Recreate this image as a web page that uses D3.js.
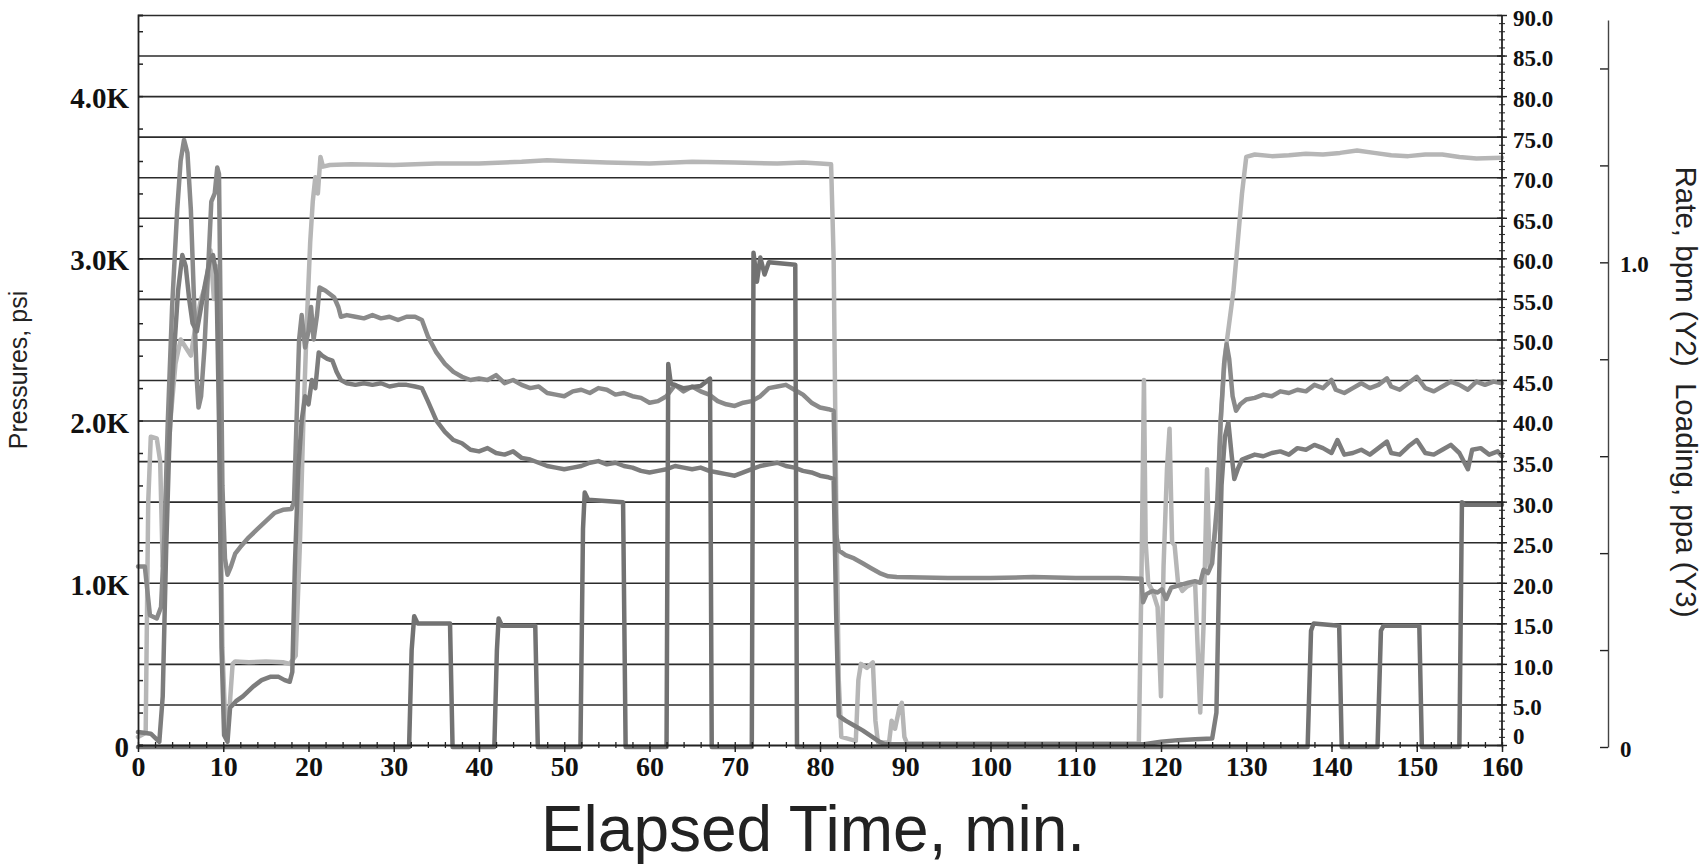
<!DOCTYPE html>
<html>
<head>
<meta charset="utf-8">
<script src="https://cdn.jsdelivr.net/npm/d3@7"></script>
<style>
  html, body { margin: 0; padding: 0; background: #fff; }
  svg { display: block; }
</style>
</head>
<body>
<div id="chart"></div>
<script>
// Series: [elapsed minutes, value]
// Pressures in psi (left axis)
const pressureUpper = [
  [0, 1100], [0.8, 1100], [1.1, 950], [1.4, 800], [2.2, 780], [2.7, 850], [3.1, 1300], [3.5, 2000],
  [4.0, 2700], [4.6, 3300], [5.0, 3600], [5.4, 3730], [5.8, 3650], [6.2, 3300], [6.6, 2700], [6.9, 2250],
  [7.1, 2080], [7.4, 2150], [7.8, 2450], [8.2, 2900], [8.6, 3350], [9.0, 3400], [9.3, 3560], [9.5, 3520],
  [9.7, 2600], [9.9, 1600], [10.2, 1150], [10.5, 1050], [10.9, 1100], [11.4, 1180], [12, 1220], [13, 1280],
  [14, 1330], [15, 1380], [16, 1430], [17, 1450], [18, 1455], [18.3, 1500], [18.6, 2000], [18.9, 2500],
  [19.2, 2650], [19.6, 2450], [20.0, 2550], [20.3, 2700], [20.6, 2500], [21.0, 2650], [21.3, 2820], [22, 2800],
  [22.5, 2780], [23, 2760], [23.5, 2700], [23.8, 2640], [24.5, 2650], [25.5, 2640], [26.5, 2630], [27.5, 2650],
  [28.5, 2630], [29.5, 2640], [30.5, 2620], [31.5, 2640], [32.5, 2640], [33.3, 2620], [34, 2520], [35, 2420],
  [36, 2350], [37, 2300], [38, 2270], [39, 2250], [40, 2260], [41, 2250], [42, 2280], [43, 2230], [44, 2250],
  [45, 2220], [46, 2200], [47, 2210], [48, 2170], [49, 2160], [50, 2150], [51, 2180], [52, 2190], [53, 2170],
  [54, 2200], [55, 2190], [56, 2160], [57, 2170], [58, 2150], [59, 2140], [60, 2110], [61, 2120], [62, 2150],
  [63, 2220], [64, 2180], [65, 2210], [66, 2180], [67, 2160], [68, 2120], [69, 2100], [70, 2090], [71, 2110],
  [72, 2120], [73, 2150], [74, 2200], [75, 2210], [76, 2220], [77, 2190], [78, 2160], [79, 2110], [80, 2080],
  [81, 2070], [81.6, 2060], [81.9, 1300], [82.2, 1200], [83, 1170], [84, 1150], [85, 1120], [86, 1090],
  [87, 1060], [88, 1040], [89, 1035], [95, 1030], [100, 1030], [105, 1035], [110, 1030], [115, 1030],
  [117.7, 1025], [117.9, 880], [118.3, 930], [119, 950], [119.6, 940], [120.1, 960], [120.6, 900], [121.2, 970],
  [121.8, 980], [122.5, 990], [123.2, 1000], [124.0, 1010], [124.6, 1000], [125, 1080], [125.5, 1060], [126, 1120],
  [126.6, 1500], [127.0, 2000], [127.4, 2350], [127.7, 2470], [128.0, 2380], [128.4, 2150], [128.8, 2060], [129.3, 2100],
  [130, 2130], [131, 2140], [132, 2160], [133, 2150], [134, 2180], [135, 2170], [136, 2190], [137, 2180],
  [138, 2220], [139, 2200], [140, 2250], [140.5, 2190], [141.5, 2170], [142.5, 2200], [143.5, 2230], [144.5, 2200],
  [145.5, 2220], [146.5, 2260], [147, 2210], [148, 2190], [149, 2230], [150, 2270], [151, 2200], [152, 2180],
  [153, 2210], [154, 2240], [155, 2220], [156, 2190], [157, 2240], [158, 2220], [159, 2240], [160, 2230]
];

const pressureLower = [
  [0, 80], [1.5, 70], [2.5, 20], [2.9, 300], [3.3, 1200], [3.7, 1900], [4.2, 2400], [4.7, 2800],
  [5.2, 3020], [5.6, 2950], [6.0, 2750], [6.4, 2600], [6.9, 2550], [7.4, 2700], [7.9, 2850], [8.4, 2980],
  [8.8, 3020], [9.2, 2900], [9.5, 2000], [9.8, 600], [10.1, 60], [10.5, 20], [10.8, 230], [11.5, 270],
  [12.3, 300], [13.5, 360], [14.5, 400], [15.5, 420], [16.5, 420], [17.2, 400], [17.8, 390], [18.1, 450],
  [18.4, 1100], [18.8, 1700], [19.2, 2000], [19.6, 2150], [20.0, 2100], [20.4, 2250], [20.8, 2200], [21.2, 2420],
  [21.6, 2400], [22.2, 2380], [22.8, 2370], [23.3, 2300], [23.8, 2250], [24.5, 2230], [25.5, 2220], [26.5, 2230],
  [27.5, 2220], [28.5, 2230], [29.5, 2210], [30.5, 2220], [31.5, 2220], [32.5, 2210], [33.3, 2200], [34, 2120],
  [35, 2000], [36, 1930], [37, 1880], [38, 1860], [39, 1820], [40, 1810], [41, 1830], [42, 1800], [43, 1790],
  [44, 1810], [45, 1770], [46, 1760], [47, 1740], [48, 1720], [49, 1710], [50, 1700], [51, 1710], [52, 1720],
  [53, 1740], [54, 1750], [55, 1730], [56, 1740], [57, 1720], [58, 1710], [59, 1690], [60, 1680], [61, 1690],
  [62, 1700], [63, 1720], [64, 1710], [65, 1700], [66, 1710], [67, 1690], [68, 1680], [69, 1670], [70, 1660],
  [71, 1680], [72, 1700], [73, 1720], [74, 1730], [75, 1740], [76, 1720], [77, 1710], [78, 1690], [79, 1680],
  [80, 1660], [81, 1650], [81.6, 1640], [81.9, 800], [82.2, 180], [83, 150], [84, 120], [85, 90], [86, 55],
  [87, 20], [87.6, 5], [100, 5], [118, 5], [120, 20], [122, 30], [124, 35], [126, 40], [126.5, 200],
  [126.8, 1000], [127.1, 1600], [127.5, 1900], [127.9, 1990], [128.3, 1780], [128.6, 1640], [129.0, 1700], [129.5, 1760],
  [130, 1770], [131, 1790], [132, 1780], [133, 1800], [134, 1810], [135, 1790], [136, 1830], [137, 1820],
  [138, 1850], [139, 1830], [140, 1800], [140.7, 1880], [141.5, 1790], [142.5, 1800], [143.5, 1820], [144.5, 1790],
  [145.5, 1830], [146.5, 1870], [147, 1800], [148, 1790], [149, 1840], [150, 1880], [151, 1800], [152, 1790],
  [153, 1820], [154, 1850], [155, 1800], [156, 1700], [156.5, 1820], [157.5, 1830], [158.5, 1790], [159.5, 1810],
  [160, 1780]
];

// Rate in bpm (Y2)
const rate = [
  [0, 1], [0.9, 1.5], [1.2, 30], [1.5, 38], [2.2, 37.8], [2.6, 35], [2.9, 22], [3.3, 30], [3.8, 40],
  [4.4, 47], [5.0, 50], [5.6, 49], [6.2, 48], [6.8, 52], [7.4, 55], [8.0, 57], [8.5, 61], [8.9, 55],
  [9.3, 59], [9.6, 40], [9.9, 12], [10.3, 1], [10.7, 4], [11.1, 10], [11.4, 10.3], [13, 10.2], [15, 10.3],
  [17, 10.2], [17.8, 10], [18.5, 11], [19.0, 25], [19.4, 40], [19.8, 52], [20.2, 62], [20.5, 67], [20.8, 70],
  [21.1, 68], [21.4, 72.5], [21.7, 71.3], [22.5, 71.5], [25, 71.6], [30, 71.5], [35, 71.7], [40, 71.7],
  [45, 71.9], [48, 72.1], [50, 72.0], [55, 71.8], [60, 71.7], [65, 71.9], [70, 71.8], [75, 71.7], [78, 71.8],
  [80, 71.7], [81.3, 71.6], [81.6, 60], [81.9, 30], [82.2, 8], [82.5, 1], [84.2, 0.5], [84.5, 8], [84.8, 10],
  [85.5, 9.5], [86.2, 10.2], [86.5, 3], [86.8, 0.3], [88.1, 0.3], [88.4, 3], [88.8, 2], [89.3, 4.5],
  [89.6, 5.2], [89.9, 1], [90.2, 0.2], [117.4, 0.2], [117.7, 20], [118.0, 45], [118.2, 25], [118.5, 20],
  [119, 19], [119.6, 17], [120, 6], [120.3, 22], [120.7, 34], [121.0, 39], [121.3, 25], [121.6, 24.6],
  [122, 20], [122.5, 19], [123, 19.5], [124, 20], [124.6, 4], [125, 15], [125.4, 34], [125.7, 22],
  [126.2, 25], [126.6, 28], [127, 40], [127.5, 48], [128, 52], [128.5, 56], [129, 62], [129.5, 68],
  [130, 72.5], [131, 72.8], [133, 72.6], [135, 72.7], [137, 72.9], [139, 72.8], [141, 73.0], [143, 73.3],
  [145, 73.0], [147, 72.7], [149, 72.6], [151, 72.8], [153, 72.8], [155, 72.5], [157, 72.3], [160, 72.4]
];

// Loading in ppa (Y3)
const loading = [
  [0, 0], [31.8, 0], [32.1, 0.2], [32.4, 0.27], [32.8, 0.255], [36.6, 0.255], [36.9, 0],
  [41.8, 0], [42.1, 0.2], [42.3, 0.265], [42.7, 0.25], [46.6, 0.25], [46.9, 0],
  [51.9, 0], [52.2, 0.45], [52.4, 0.525], [52.8, 0.51], [56.9, 0.505], [57.2, 0],
  [62.0, 0], [62.2, 0.79], [62.5, 0.75], [64, 0.74], [66, 0.745], [67.1, 0.76], [67.3, 0],
  [72.0, 0], [72.2, 1.02], [72.6, 0.96], [73.0, 1.01], [73.5, 0.975], [74, 1.0], [77.1, 0.995], [77.3, 0],
  [137.2, 0], [137.6, 0.24], [137.9, 0.255], [140.9, 0.25], [141.2, 0],
  [145.4, 0], [145.8, 0.24], [146.1, 0.25], [150.3, 0.25], [150.6, 0],
  [155.0, 0], [155.3, 0.505], [155.6, 0.5], [160, 0.5]
];

// Tick values
const xTicks = d3.range(0, 161, 10);
const xMinorTicks = d3.range(0, 161, 2);
const pressureLabels = [0, 1000, 2000, 3000, 4000];
const pressureTicks = d3.range(0, 4401, 200);
const gridValues = d3.range(250, 4501, 250);
const rateLabels = d3.range(0, 91, 5);
const rateMinorTicks = d3.range(0, 91, 1);
const loadingTicks = d3.range(0, 1.41, 0.2);
const loadingLabels = [0, 1.0];

// Chart dimensions
const width = 1704;
const height = 866;
const plotLeft = 138;
const plotRight = 1502;
const plotTop = 15;
const plotBottom = 745;
const y3AxisX = 1608;

const svg = d3.select("#chart").append("svg")
    .attr("width", width)
    .attr("height", height);

svg.append("rect")
    .attr("width", width)
    .attr("height", height)
    .attr("fill", "#fff");

// Scales
const x = d3.scaleLinear().domain([0, 160]).range([plotLeft, plotRight]);
const y = d3.scaleLinear().domain([0, 4500]).range([plotBottom, plotTop]);
const y2 = d3.scaleLinear().domain([0, 90]).range([plotBottom, plotTop]);
const y3 = d3.scaleLinear().domain([0, 1.5]).range([plotBottom + 2, plotTop + 5]);

const serif = "'Liberation Serif', 'Times New Roman', serif";
const sans = "'Liberation Sans', Arial, sans-serif";

// Horizontal grid lines
const grid = svg.append("g")
    .attr("transform", `translate(${plotLeft},0)`)
    .call(d3.axisLeft(y).tickValues(gridValues).tickSize(-(plotRight - plotLeft)).tickFormat(""));
grid.select(".domain").remove();
grid.selectAll("line").attr("stroke", "#2b2b2b").attr("stroke-width", 1.6);

// Lines
function drawSeries(data, yScale, color, w) {
    const line = d3.line()
        .x(d => x(d[0]))
        .y(d => yScale(d[1]));
    svg.append("path")
        .datum(data)
        .attr("fill", "none")
        .attr("stroke", color)
        .attr("stroke-width", w)
        .attr("stroke-linejoin", "round")
        .attr("stroke-linecap", "round")
        .attr("d", line);
}

drawSeries(rate, y2, "#b6b6b6", 4.5);
drawSeries(pressureUpper, y, "#8a8a8a", 4.5);
drawSeries(pressureLower, y, "#7d7d7d", 4.5);
drawSeries(loading, y3, "#727272", 4.5);

// Left axis: inward ticks and K labels
const leftTicks = svg.append("g")
    .attr("transform", `translate(${plotLeft},0)`)
    .call(d3.axisRight(y).tickValues(pressureTicks).tickSize(5).tickFormat(""));
leftTicks.selectAll("line").attr("stroke", "#222").attr("stroke-width", 1.5);
leftTicks.select(".domain").attr("stroke", "#222").attr("stroke-width", 1.8);

const leftLabels = svg.append("g")
    .attr("transform", `translate(${plotLeft},0)`)
    .call(d3.axisLeft(y).tickValues(pressureLabels).tickSize(0).tickPadding(9)
        .tickFormat(d => d === 0 ? "0" : (d / 1000).toFixed(1) + "K"));
leftLabels.select(".domain").remove();
leftLabels.selectAll("text")
    .attr("font-family", serif)
    .attr("font-weight", "bold")
    .attr("font-size", 29)
    .attr("fill", "#111")
    .attr("dy", "0.4em");

// Bottom axis
const bottomMinor = svg.append("g")
    .attr("transform", `translate(0,${plotBottom})`)
    .call(d3.axisBottom(x).tickValues(xMinorTicks).tickSize(3).tickSizeOuter(0).tickFormat(""));
bottomMinor.selectAll("line").attr("stroke", "#222").attr("stroke-width", 1.3);
bottomMinor.select(".domain").attr("stroke", "#222").attr("stroke-width", 1.8);

const bottomMinorUp = svg.append("g")
    .attr("transform", `translate(0,${plotBottom})`)
    .call(d3.axisTop(x).tickValues(xMinorTicks).tickSize(3).tickFormat(""));
bottomMinorUp.select(".domain").remove();
bottomMinorUp.selectAll("line").attr("stroke", "#222").attr("stroke-width", 1.3);

const bottomAxis = svg.append("g")
    .attr("transform", `translate(0,${plotBottom})`)
    .call(d3.axisBottom(x).tickValues(xTicks).tickSize(7).tickPadding(4));
bottomAxis.select(".domain").remove();
bottomAxis.selectAll("line").attr("stroke", "#222").attr("stroke-width", 1.5);
bottomAxis.selectAll("text")
    .attr("font-family", serif)
    .attr("font-weight", "bold")
    .attr("font-size", 28)
    .attr("fill", "#111");

// Right axis (Y2, rate)
const rightMinor = svg.append("g")
    .attr("transform", `translate(${plotRight - 3},0)`)
    .call(d3.axisRight(y2).tickValues(rateMinorTicks).tickSize(6).tickSizeOuter(0).tickFormat(""));
rightMinor.select(".domain").remove();
rightMinor.selectAll("line").attr("stroke", "#333").attr("stroke-width", 1.1);

const rightAxis = svg.append("g")
    .attr("transform", `translate(${plotRight - 5},0)`)
    .call(d3.axisRight(y2).tickValues(rateLabels).tickSize(10).tickSizeOuter(0).tickPadding(6)
        .tickFormat(d => d === 0 ? "0" : d3.format(".1f")(d)));
rightAxis.select(".domain").remove();
rightAxis.selectAll("line").attr("stroke", "#222").attr("stroke-width", 1.4);
rightAxis.selectAll("text")
    .attr("font-family", serif)
    .attr("font-weight", "bold")
    .attr("font-size", 23)
    .attr("fill", "#111")
    .attr("dy", d => d === 0 ? "-0.05em" : "0.45em");

svg.append("line")
    .attr("x1", plotRight).attr("x2", plotRight)
    .attr("y1", y2(0)).attr("y2", y2(90))
    .attr("stroke", "#222")
    .attr("stroke-width", 1.8);

// Outer axis (Y3, loading)
const y3Ticks = svg.append("g")
    .attr("transform", `translate(${y3AxisX},0)`)
    .call(d3.axisLeft(y3).tickValues(loadingTicks).tickSize(8).tickSizeOuter(0).tickFormat(""));
y3Ticks.select(".domain").attr("stroke", "#444").attr("stroke-width", 1.4);
y3Ticks.selectAll("line").attr("stroke", "#222").attr("stroke-width", 1.4);

const y3Labels = svg.append("g")
    .attr("transform", `translate(${y3AxisX},0)`)
    .call(d3.axisRight(y3).tickValues(loadingLabels).tickSize(0).tickPadding(12)
        .tickFormat(d => d === 0 ? "0" : d3.format(".1f")(d)));
y3Labels.select(".domain").remove();
y3Labels.selectAll("text")
    .attr("font-family", serif)
    .attr("font-weight", "bold")
    .attr("font-size", 23)
    .attr("fill", "#111")
    .attr("dy", "0.4em");

// Axis titles
svg.append("text")
    .attr("transform", "translate(27,370) rotate(-90)")
    .attr("text-anchor", "middle")
    .attr("font-family", sans)
    .attr("font-size", 25)
    .attr("fill", "#222")
    .text("Pressures, psi");

svg.append("text")
    .attr("transform", "translate(1676,392) rotate(90)")
    .attr("text-anchor", "middle")
    .attr("font-family", sans)
    .attr("font-size", 29.5)
    .attr("fill", "#222")
    .text("Rate, bpm (Y2)\u00a0\u00a0Loading, ppa (Y3)");

svg.append("text")
    .attr("x", 813)
    .attr("y", 851)
    .attr("text-anchor", "middle")
    .attr("font-family", sans)
    .attr("font-size", 64)
    .attr("fill", "#222")
    .text("Elapsed Time, min.");
</script>
</body>
</html>
